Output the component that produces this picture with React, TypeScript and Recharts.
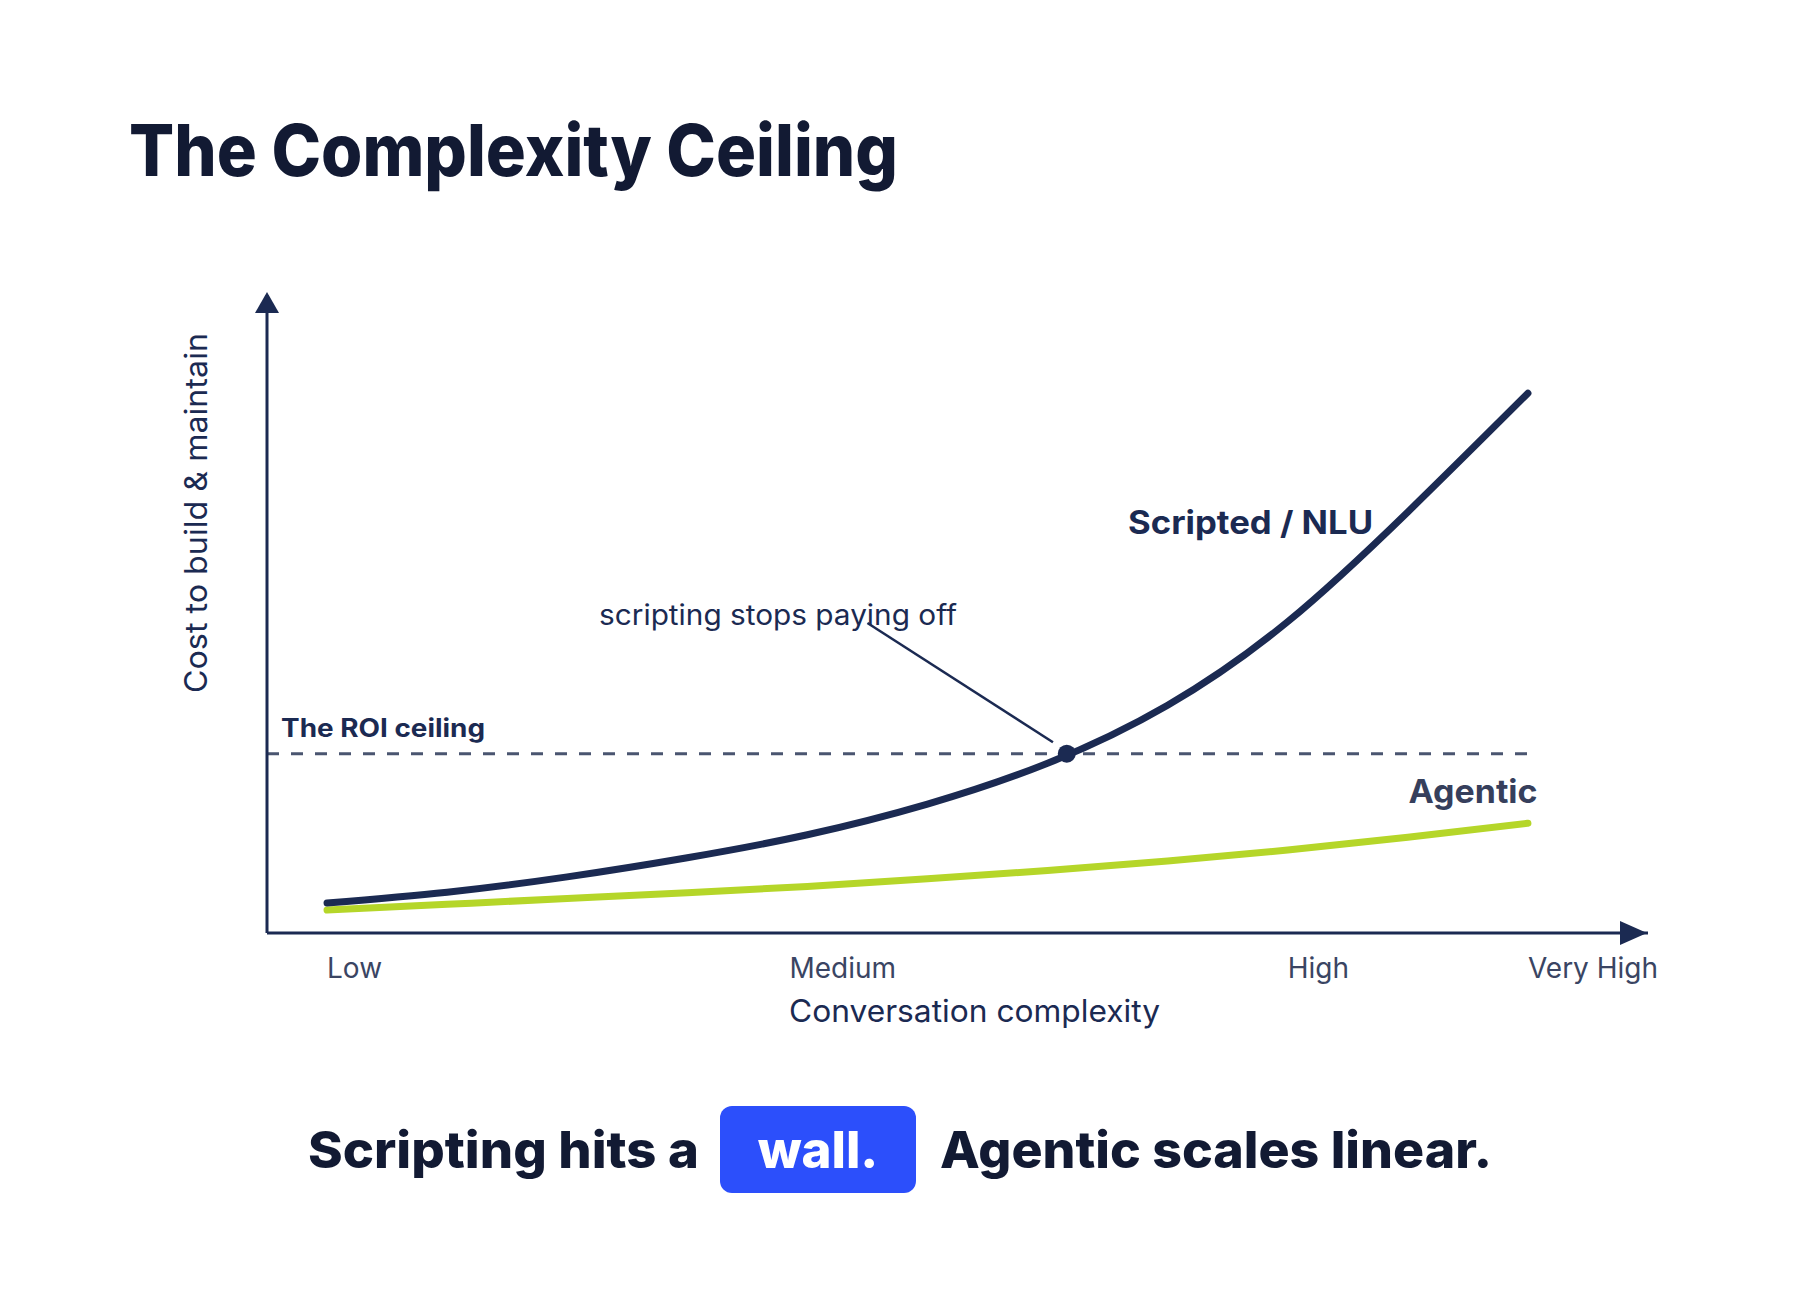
import { Line, LineChart, ReferenceDot, ReferenceLine, XAxis, YAxis } from "recharts";

// complexity runs 0 (Low) .. 10 (Very High), cost is a 0..100 index
const complexity = [0, 1, 2, 3, 4, 5, 6, 7, 8, 9, 10];
const scriptedCost = [4.7, 6.4, 8.8, 11.8, 15.4, 20.2, 26.6, 35.7, 48.8, 66.0, 84.6];
const agenticCost = [3.6, 4.5, 5.4, 6.3, 7.3, 8.5, 9.8, 11.3, 13.0, 15.0, 17.2];

const tickValues = [0, 3.85, 8.0, 10];
const tickLabels = ["Low", "Medium", "High", "Very High"];

const roiCeiling = 28.1;
const breakEven = { x: 6.16, y: 28.1 };
const leader = [{ x: 4.5, y: 48.6 }, { x: 6.045, y: 29.9 }];

const chartData = complexity.map((c, i) => ({
	c,
	scripted: scriptedCost[i],
	agentic: agenticCost[i],
}));

const NAVY = "#1b2a52";
const INK = "#121a33";
const GREEN = "#b5d629";
const FONT = "Inter, 'Noto Sans', sans-serif";

const XTick = (props: any) => {
	const { x, y, payload } = props;
	const idx = tickValues.indexOf(payload.value);
	return (
		<text x={x} y={y + 45} textAnchor="start" fontFamily={FONT} fontSize={28} fill="#3a4563">
			{tickLabels[idx]}
		</text>
	);
};

const note = (text: string, opts: any) => (p: any) => (
	<text x={p.cx} y={p.cy} fontFamily={FONT} {...opts}>{text}</text>
);

const Chart = () => (
	<LineChart
		width={1800}
		height={1290}
		data={chartData}
		margin={{ top: 295, right: 152, bottom: 297, left: 207 }}
	>
		<XAxis
			dataKey="c"
			type="number"
			domain={[-0.5, 11]}
			ticks={tickValues}
			allowDataOverflow
			height={60}
			tickLine={false}
			tickSize={0}
			tickMargin={0}
			axisLine={{ stroke: NAVY, strokeWidth: 3 }}
			tick={<XTick />}
			label={{
				content: (p: any) => (
					<text x={p.viewBox.x + p.viewBox.width / 2 + 17} y={1022} textAnchor="middle"
						fontFamily={FONT} fontSize={31} fill={NAVY} textLength={371} lengthAdjust="spacingAndGlyphs">
						Conversation complexity
					</text>
				),
			}}
		/>
		<YAxis
			type="number"
			domain={[0, 100]}
			width={60}
			tick={false}
			tickLine={false}
			axisLine={{ stroke: NAVY, strokeWidth: 3 }}
			label={{
				content: () => (
					<text x={207} y={513} transform="rotate(-90, 207, 513)" textAnchor="middle"
						fontFamily={FONT} fontSize={31} fill={NAVY} textLength={360} lengthAdjust="spacingAndGlyphs">
						Cost to build &amp; maintain
					</text>
				),
			}}
		/>

		<ReferenceLine
			segment={[{ x: -0.5, y: roiCeiling }, { x: 10, y: roiCeiling }]}
			stroke="#4a5570"
			strokeWidth={3}
			strokeDasharray="12 12"
			ifOverflow="visible"
		/>
		<ReferenceLine segment={leader} stroke={NAVY} strokeWidth={2.5} ifOverflow="visible" />

		<Line type="natural" dataKey="agentic" stroke={GREEN} strokeWidth={7} strokeLinecap="round"
			dot={false} activeDot={false} isAnimationActive={false} />
		<Line type="natural" dataKey="scripted" stroke={NAVY} strokeWidth={7} strokeLinecap="round"
			dot={false} activeDot={false} isAnimationActive={false} />

		<ReferenceDot x={breakEven.x} y={breakEven.y} r={9} fill={NAVY} stroke="none" ifOverflow="visible" />

		{/* axis arrowheads */}
		<ReferenceDot x={11} y={0} ifOverflow="visible"
			shape={(p: any) => <polygon points={`${p.cx - 1},${p.cy} ${p.cx - 28},${p.cy - 12} ${p.cx - 28},${p.cy + 12}`} fill={NAVY} />} />
		<ReferenceDot x={-0.5} y={100} ifOverflow="visible"
			shape={(p: any) => <polygon points={`${p.cx},${p.cy - 3} ${p.cx - 12},${p.cy + 18} ${p.cx + 12},${p.cy + 18}`} fill={NAVY} />} />

		{/* annotations */}
		<ReferenceDot x={-0.383} y={30.7} ifOverflow="visible"
			shape={note("The ROI ceiling", { fontSize: 25, fontWeight: 700, fill: NAVY, textLength: 204, lengthAdjust: "spacingAndGlyphs" })} />
		<ReferenceDot x={2.265} y={48.3} ifOverflow="visible"
			shape={note("scripting stops paying off", { fontSize: 28, fill: NAVY, textLength: 358, lengthAdjust: "spacingAndGlyphs" })} />
		<ReferenceDot x={6.67} y={62.5} ifOverflow="visible"
			shape={note("Scripted / NLU", { fontSize: 32, fontWeight: 700, fill: NAVY, textLength: 245, lengthAdjust: "spacingAndGlyphs" })} />
		<ReferenceDot x={10.08} y={20.4} ifOverflow="visible"
			shape={note("Agentic", { fontSize: 33, fontWeight: 700, fill: "#363f5c", textAnchor: "end", textLength: 129, lengthAdjust: "spacingAndGlyphs" })} />
	</LineChart>
);

export default function App() {
	return (
		<div style={{ position: "absolute", left: 0, top: 0, width: 1800, height: 1290, background: "#fff" }}>
			<div style={{ position: "absolute", left: 0, top: 0 }}>
				<Chart />
			</div>
			<svg width={1800} height={1290} style={{ position: "absolute", left: 0, top: 0, pointerEvents: "none" }}>
				<text x={129} y={176} fontFamily={FONT} fontSize={72} fontWeight={800} fill={INK}
					textLength={769} lengthAdjust="spacingAndGlyphs">
					The Complexity Ceiling
				</text>
				<text x={308} y={1168} fontFamily={FONT} fontSize={51} fontWeight={800} fill={INK}
					textLength={391} lengthAdjust="spacingAndGlyphs">
					Scripting hits a
				</text>
				<rect x={720} y={1106} width={196} height={87} rx={12} fill="#2c4ffb" />
				<text x={818} y={1168} textAnchor="middle" fontFamily={FONT} fontSize={51} fontWeight={800} fill="#fff">
					wall.
				</text>
				<text x={940} y={1168} fontFamily={FONT} fontSize={51} fontWeight={800} fill={INK}
					textLength={552} lengthAdjust="spacingAndGlyphs">
					Agentic scales linear.
				</text>
			</svg>
		</div>
	);
}
